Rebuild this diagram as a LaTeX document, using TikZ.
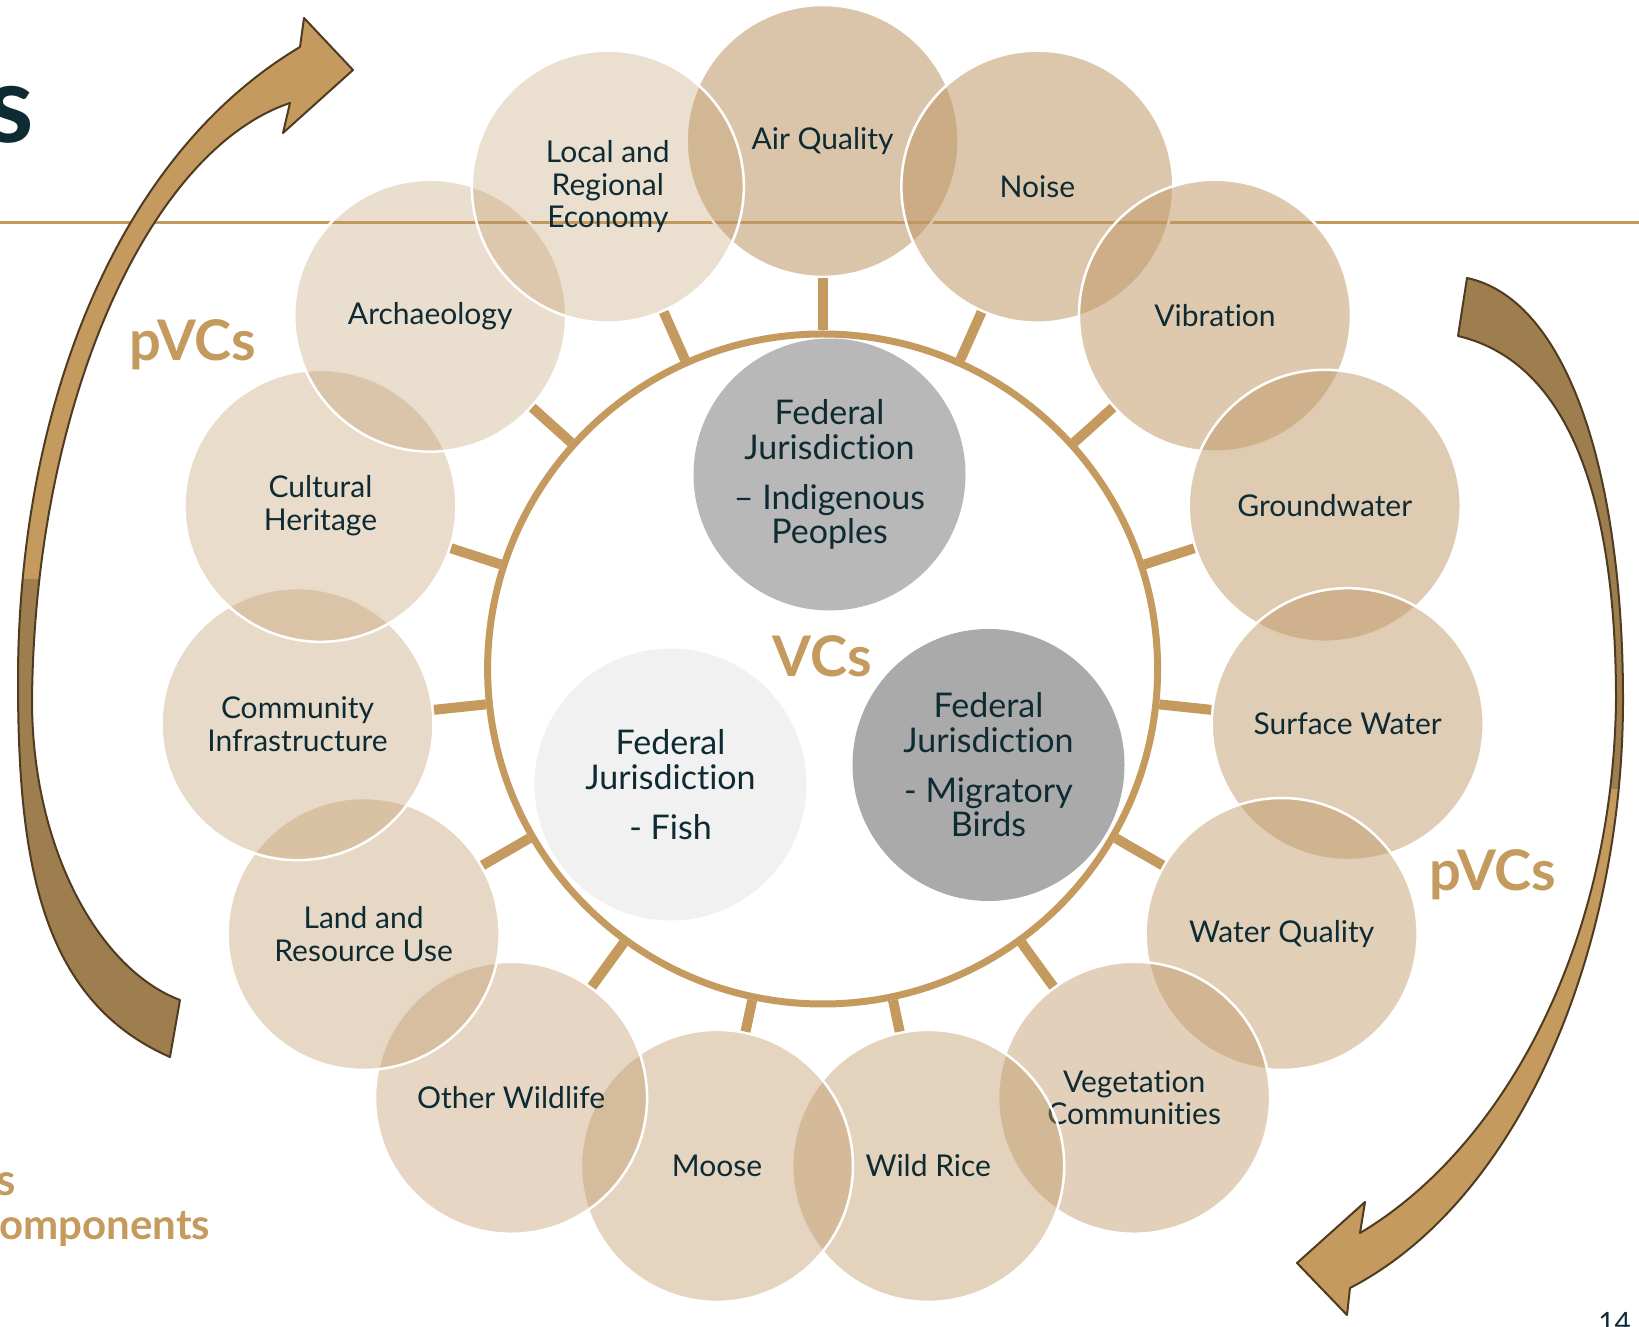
\documentclass[tikz,border=0pt]{standalone}
\usepackage{fontspec}
\setmainfont[Ligatures={NoCommon}]{Lato}
\usepackage{tikz}
\usetikzlibrary{calc}
\definecolor{vctan}{HTML}{C49A5E}
\definecolor{balltan}{HTML}{BE9664}
\definecolor{arrowdark}{HTML}{9E7D4E}
\definecolor{arrowline}{HTML}{4F3B1F}
\definecolor{inktext}{HTML}{0E2B33}
\definecolor{fedgrey}{HTML}{B8B8B8}
\definecolor{fedlight}{HTML}{F1F1F1}
\definecolor{feddark}{HTML}{AAAAAA}
\newcommand{\leftbent}{(170,269) .. controls (40,326) and (18,466) .. (18,646) .. controls (18,906) and (110,1166) .. (300,1279) -- (304,1308) -- (353,1256) -- (283,1193) -- (290,1223) .. controls (150,1176) and (35,926) .. (32,626) .. controls (32,476) and (100,356) .. (180,326) -- cycle}
\newcommand{\rightbent}{(1467,1048) .. controls (1570,1026) and (1623,846) .. (1623,626) .. controls (1623,376) and (1520,126) .. (1350,38) -- (1347,11) -- (1297,63) -- (1365,124) -- (1360,93) .. controls (1500,176) and (1613,376) .. (1616,626) .. controls (1616,846) and (1560,966) .. (1458,990) -- cycle}

\begin{document}
\begin{tikzpicture}[x=1pt,y=1pt,
  vcball/.style={circle, inner sep=0, minimum size=272, draw=white, line width=2.5, fill=balltan, text opacity=1, text=inktext, align=center, font=\fontsize{30}{32.4}\selectfont},
  fedball/.style={circle, inner sep=0, minimum size=272, text=inktext, align=center, font=\fontsize{34}{34.5}\selectfont},
  spoke/.style={vctan, line width=10},
  bigword/.style={text=vctan, font=\fontsize{56}{56}\selectfont\bfseries, inner sep=0},
  bent/.style={draw=arrowline, line width=2, line join=round}]
\useasboundingbox (0,0) rectangle (1639,1326);
\draw[vctan, line width=3] (0,1103) -- (1639,1103);

\begin{scope}
\clip (0,746) rectangle (400,1326);
\fill[vctan] \leftbent;
\end{scope}
\begin{scope}
\clip (0,0) rectangle (400,746);
\fill[arrowdark] \leftbent;
\end{scope}
\draw[bent] \leftbent;

\begin{scope}
\clip (1250,536) rectangle (1639,1326);
\fill[arrowdark] \rightbent;
\end{scope}
\begin{scope}
\clip (1250,0) rectangle (1639,536);
\fill[vctan] \rightbent;
\end{scope}
\draw[bent] \rightbent;

\node[circle, draw=vctan, line width=7, minimum size=670, inner sep=0] (ring) at (822.6,657) {};
\node[fedball, fill=fedgrey] (indig) at (829.5,851.5) {Federal\\Jurisdiction\\[15.5pt]– Indigenous\\Peoples};
\node[fedball, fill=fedlight] (fish) at (670.5,541.5) {Federal\\Jurisdiction\\[15.5pt]- Fish};
\node[fedball, fill=feddark] (birds) at (988.5,561) {Federal\\Jurisdiction\\[15.5pt]- Migratory\\Birds};
\node[bigword, anchor=base] (vcs) at (822.6,649) {VCs};

\foreach \ang/\rad/\nm/\lbl [count=\k from 0, evaluate=\k as \op using 0.55-0.25*\k/14] in {90/528/air/Air Quality, 66/528/noise/Noise, 42/528/vib/Vibration, 18/528/ground/Groundwater, -6/528/surf/Surface Water, -30/530/wq/Water Quality, -54/530/veg/Vegetation\\Communities, -78/508/rice/Wild Rice, -102/508/moose/Moose, -126/530/wild/Other Wildlife, -150/530/land/Land and\\Resource Use, -174/528/infra/Community\\Infrastructure, 162/528/cult/Cultural\\Heritage, 138/528/arch/Archaeology, 114/528/econ/Local and\\Regional\\Economy}
{
 \node[vcball, fill opacity=\op] (\nm) at ($(ring)+(\ang:\rad)$) {\lbl};
}
\foreach \nm in {air,noise,vib,ground,surf,wq,veg,rice,moose,wild,land,infra,cult,arch,econ}
 \draw[spoke] (ring) -- (\nm);

\node[bigword, anchor=base] (pvcleft) at (193,965) {pVCs};
\node[bigword, anchor=base] (pvcright) at (1493,435) {pVCs};
\node[anchor=base east, inner sep=0, text=inktext, font=\fontsize{108}{108}\selectfont\bfseries] (heading) at (34,1183) {s};
\node[bigword, anchor=base east, font=\fontsize{44}{44}\selectfont\bfseries] (subhead) at (16,131) {s};
\node[bigword, anchor=base west, font=\fontsize{42}{42}\selectfont\bfseries] (subtail) at (-1,87) {omponents};
\node[anchor=base east, inner sep=0, text=inktext, font=\fontsize{28}{28}\selectfont] (pagenum) at (1631,-6) {14};
\end{tikzpicture}
\end{document}
